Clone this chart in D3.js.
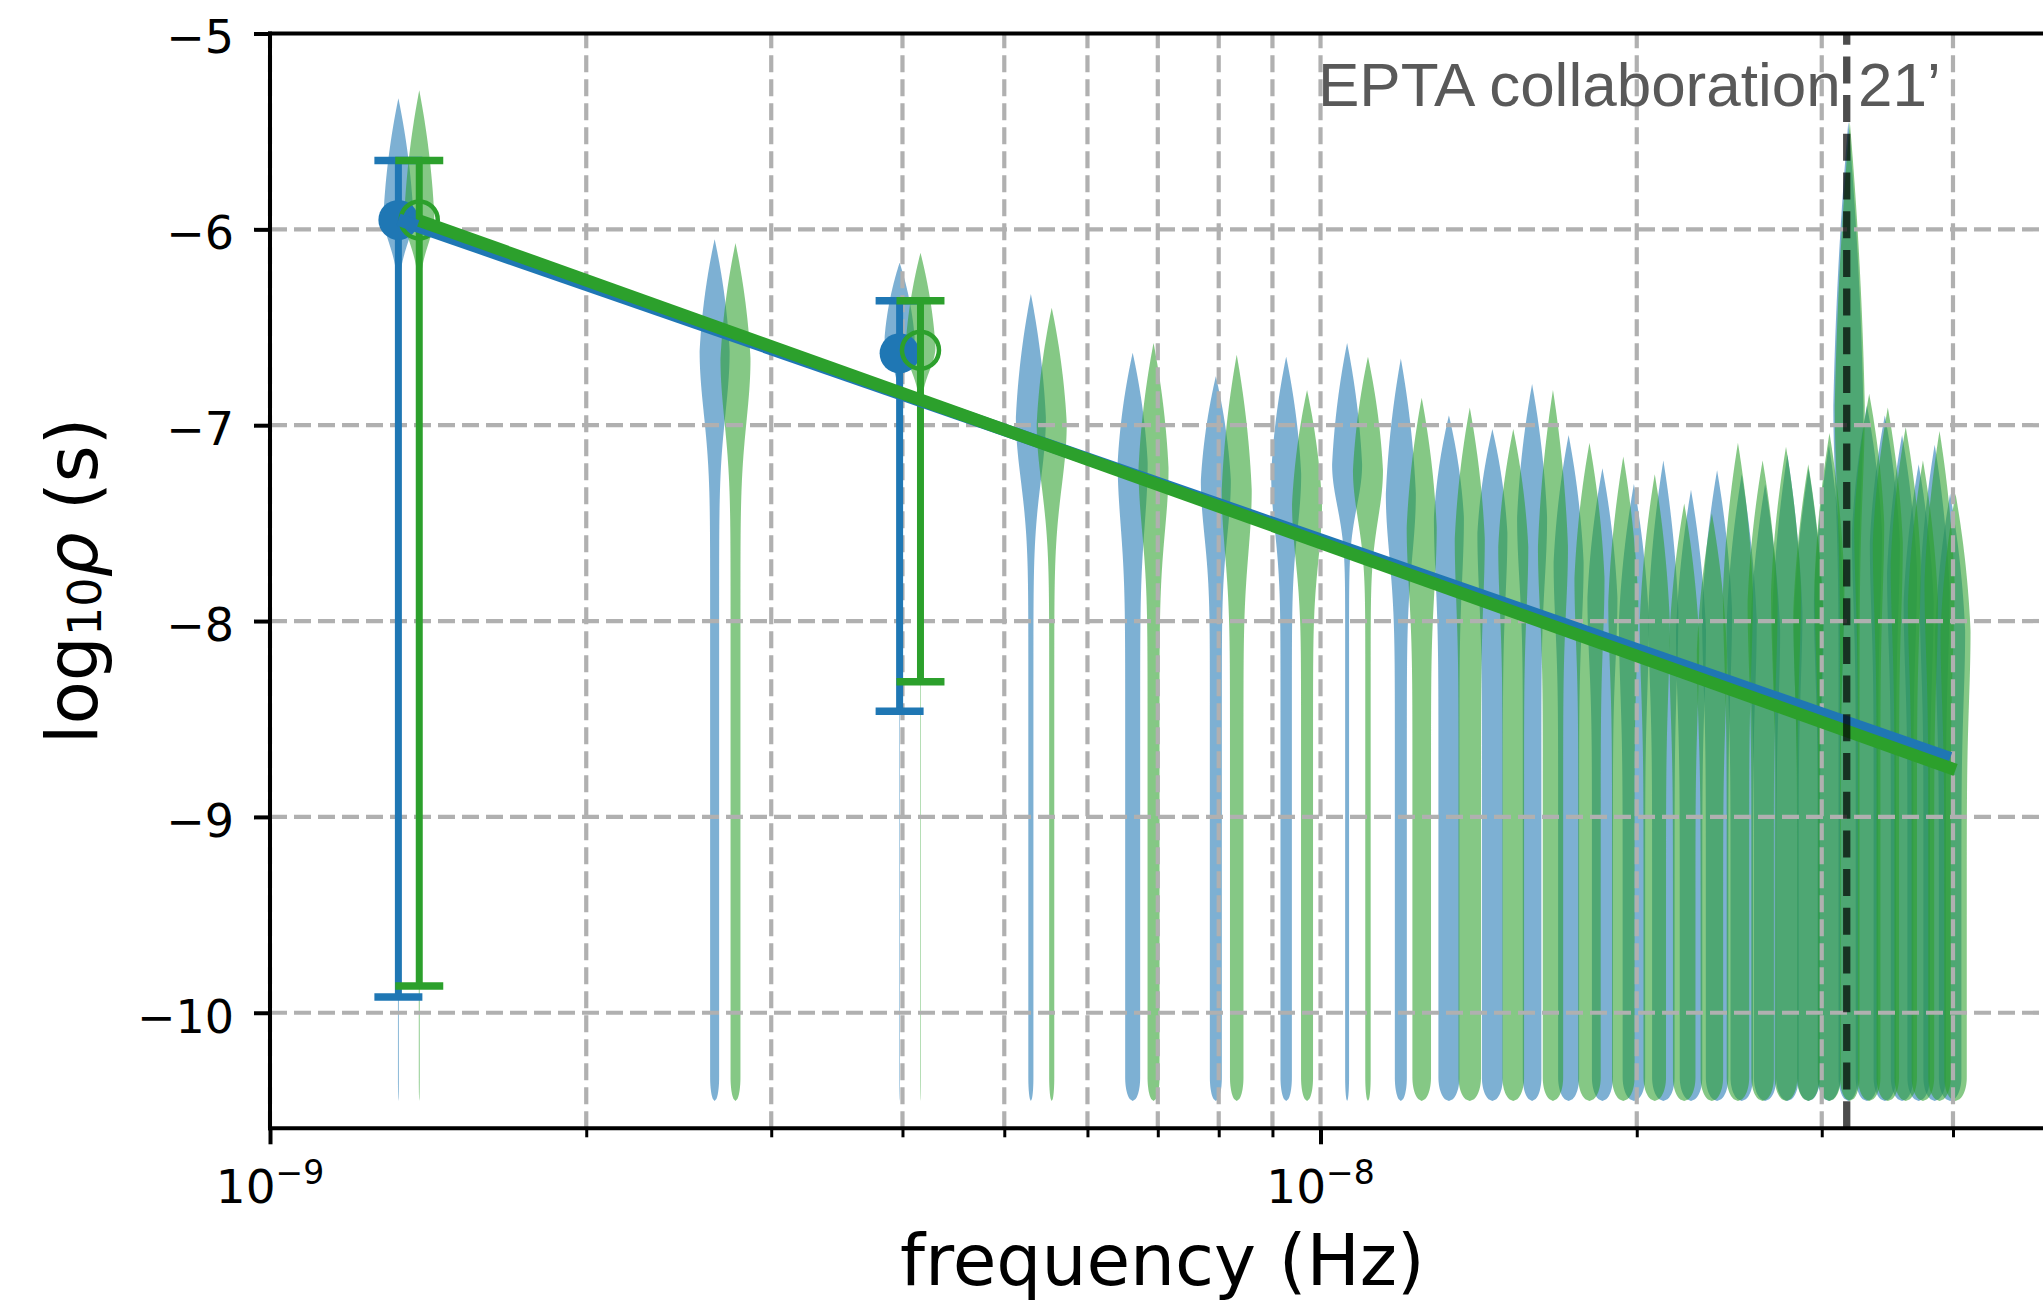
<!DOCTYPE html>
<html><head><meta charset="utf-8">
<script src="https://cdn.jsdelivr.net/npm/d3@7"></script>
<style>body{margin:0;background:#fff}svg{display:block}</style>
</head><body><svg id="c" width="2043" height="1303"></svg>
<script>
// ---------------- data ----------------
const blueFreq = [1.325e-9,2.650e-9,3.975e-9,5.300e-9,6.625e-9,7.950e-9,9.275e-9,1.0600e-8,1.1925e-8,1.3250e-8,
  1.4575e-8,1.5900e-8,1.7225e-8,1.8550e-8,1.9875e-8,2.1200e-8,2.2525e-8,2.3850e-8,2.5175e-8,2.6500e-8,
  2.7825e-8,2.9150e-8,3.0475e-8,3.1800e-8,3.3125e-8,3.4450e-8,3.5775e-8,3.7100e-8,3.8425e-8,3.9750e-8];
const blueTop  = [-5.33,-6.05,-6.17,-6.33,-6.63,-6.75,-6.65,-6.58,-6.66,-6.95,-7.02,-6.79,-7.05,-7.22,-7.30,
  -7.18,-7.33,-7.23,-7.25,-7.30,-7.15,-7.22,-7.10,-5.45,-6.90,-6.95,-7.05,-7.20,-7.10,-7.35];
const blueMode = [-5.93,-6.62,-6.55,-6.96,-7.19,-7.28,-7.25,-7.20,-7.35,-7.47,-7.55,-7.47,-7.70,-7.88,-8.00,
  -7.95,-8.05,-7.95,-8.00,-8.05,-7.95,-8.00,-7.90,-6.90,-7.55,-7.60,-7.75,-7.90,-7.85,-8.05];
const blueTail = [0.03,0.30,0.02,0.17,0.50,0.40,0.38,0.13,0.40,0.70,0.70,0.62,0.70,0.70,0.75,
  0.75,0.75,0.75,0.75,0.75,0.75,0.75,0.75,0.65,0.75,0.75,0.75,0.75,0.75,0.75];
const blueSpread = [0.20,0.45,0.17,0.45,0.45,0.40,0.40,0.30,0.45,0.45,0.45,0.45,0.45,0.45,0.50,
  0.50,0.50,0.50,0.50,0.50,0.50,0.50,0.50,0.60,0.50,0.50,0.50,0.50,0.50,0.50];

const greenFreq = [1.387e-9,2.774e-9,4.161e-9,5.548e-9,6.935e-9,8.322e-9,9.709e-9,1.1096e-8,1.2483e-8,1.3870e-8,
  1.5257e-8,1.6644e-8,1.8031e-8,1.9418e-8,2.0805e-8,2.2192e-8,2.3579e-8,2.4966e-8,2.6353e-8,2.7740e-8,
  2.9127e-8,3.0514e-8,3.1901e-8,3.3288e-8,3.4675e-8,3.6062e-8,3.7449e-8,3.8836e-8,4.0223e-8];
const greenTop  = [-5.29,-6.07,-6.12,-6.40,-6.58,-6.64,-6.82,-6.65,-6.86,-6.91,-7.02,-6.82,-7.09,-7.16,-7.25,
  -7.40,-7.45,-7.09,-7.18,-7.11,-7.20,-7.04,-5.45,-6.84,-6.91,-7.01,-7.18,-7.03,-7.35];
const greenMode = [-5.93,-6.66,-6.60,-6.99,-7.22,-7.33,-7.40,-7.23,-7.52,-7.58,-7.62,-7.62,-7.78,-7.90,-8.00,
  -8.10,-8.15,-7.85,-7.90,-7.85,-7.95,-7.80,-6.90,-7.50,-7.60,-7.70,-7.90,-7.80,-8.05];
const greenTail = [0.03,0.33,0.02,0.17,0.40,0.45,0.40,0.18,0.62,0.75,0.72,0.68,0.75,0.75,0.75,
  0.75,0.75,0.75,0.75,0.75,0.75,0.75,0.65,0.75,0.75,0.75,0.75,0.75,0.75];
const greenSpread = [0.20,0.45,0.17,0.45,0.45,0.45,0.40,0.35,0.45,0.45,0.45,0.45,0.45,0.45,0.50,
  0.50,0.50,0.50,0.50,0.50,0.50,0.50,0.60,0.50,0.50,0.50,0.50,0.50,0.50];
const violinBottom = -10.45;

// error bars (frequency, median, lower, upper)
const blueErrFreq = [1.325e-9, 3.975e-9];
const blueErrMid  = [-5.952, -6.633];
const blueErrLo   = [-9.92, -8.46];
const blueErrHi   = [-5.648, -6.365];
const greenErrFreq = [1.387e-9, 4.161e-9];
const greenErrMid  = [-5.952, -6.617];
const greenErrLo   = [-9.863, -8.31];
const greenErrHi   = [-5.648, -6.365];

// power-law fits (endpoints)
const blueLineFreq = [1.325e-9, 3.975e-8];
const blueLineVal  = [-5.95, -8.70];
const greenLineFreq = [1.387e-9, 4.0223e-8];
const greenLineVal  = [-5.955, -8.76];

const yearFreq = 3.1688e-8;
const yTicks = [-10, -9, -8, -7, -6, -5];
const xMajor = [1e-9, 1e-8];
const xMinor = [2e-9,3e-9,4e-9,5e-9,6e-9,7e-9,8e-9,9e-9,2e-8,3e-8,4e-8];
const xMajorLabels = ["−9", "−8"];
const annotation = "EPTA collaboration 21’";

// ---------------- layout ----------------
const L = 270, R = 2054.8, T = 33.5, B = 1128.3;
const x = d3.scaleLog().domain([1e-9, 5e-8]).range([L, R]);
const y = d3.scaleLinear().domain([-10.59, -5]).range([B, T]);
const BLUE = "#1f77b4", GREEN = "#2ca02c";
const svg = d3.select("#c");
const FONT = "DejaVu Sans";

// ---------------- violins ----------------
const PEAK = 15;
function halfWidth(v, top, mode, tail, sd) {
  let w;
  if (v >= mode) {
    const t = Math.min(1, (v - mode) / (top - mode));
    w = (1 - t) * (1 + 0.6 * t);
  } else {
    const z = (mode - v) / sd;
    w = tail + (1 - tail) * Math.exp(-z * z);
  }
  const cap = 0.12;
  if (v < violinBottom + cap) {
    const u = (violinBottom + cap - v) / cap;
    w *= Math.sqrt(Math.max(0, 1 - u * u));
  }
  return w * PEAK;
}
function violinPoints(top, mode, tail, sd) {
  const pts = [];
  const n = 400;
  for (let k = 0; k <= n; k++) {
    const v = violinBottom + (top - violinBottom) * k / n;
    pts.push({v, w: halfWidth(v, top, mode, tail, sd)});
  }
  return pts;
}
const gV = svg.append("g");
function drawViolins(freq, top, mode, tail, spread, color) {
  freq.forEach((f, i) => {
    const cx = x(f);
    const area = d3.area()
      .y(d => y(d.v))
      .x0(d => cx - d.w)
      .x1(d => cx + d.w)
      .curve(d3.curveLinear);
    gV.append("path")
      .attr("d", area(violinPoints(top[i], mode[i], tail[i], spread[i])))
      .attr("fill", color).attr("fill-opacity", 0.58).attr("stroke", "none");
  });
}
drawViolins(blueFreq, blueTop, blueMode, blueTail, blueSpread, BLUE);
drawViolins(greenFreq, greenTop, greenMode, greenTail, greenSpread, GREEN);

// ---------------- grid ----------------
const gG = svg.append("g").attr("stroke", "#b0b0b0").attr("stroke-width", 4.2).attr("stroke-dasharray", "17,7");
[...xMajor, ...xMinor].forEach(f => {
  gG.append("line").attr("x1", x(f)).attr("x2", x(f)).attr("y1", B).attr("y2", T);
});
yTicks.filter(v => v < -5).forEach(v => {
  gG.append("line").attr("x1", L).attr("x2", 2043).attr("y1", y(v)).attr("y2", y(v));
});

// ---------------- error bars ----------------
function drawErr(freq, mid, lo, hi, color, filled) {
  const g = svg.append("g");
  freq.forEach((f, i) => {
    const cx = x(f);
    g.append("line").attr("x1", cx).attr("x2", cx).attr("y1", y(lo[i])).attr("y2", y(hi[i]))
      .attr("stroke", color).attr("stroke-width", 7);
    [lo[i], hi[i]].forEach(v => g.append("line").attr("x1", cx - 24).attr("x2", cx + 24)
      .attr("y1", y(v)).attr("y2", y(v)).attr("stroke", color).attr("stroke-width", 7.5));
    if (filled) {
      g.append("circle").attr("cx", cx).attr("cy", y(mid[i])).attr("r", 20).attr("fill", color);
    } else {
      g.append("circle").attr("cx", cx).attr("cy", y(mid[i])).attr("r", 18.5)
        .attr("fill", "none").attr("stroke", color).attr("stroke-width", 4.5);
    }
  });
}
drawErr(blueErrFreq, blueErrMid, blueErrLo, blueErrHi, BLUE, true);
drawErr(greenErrFreq, greenErrMid, greenErrLo, greenErrHi, GREEN, false);

// ---------------- power law lines ----------------
const line = d3.line().x(d => x(d[0])).y(d => y(d[1]));
svg.append("path").attr("d", line(d3.zip(blueLineFreq, blueLineVal)))
  .attr("stroke", BLUE).attr("stroke-width", 12.5).attr("fill", "none");
svg.append("path").attr("d", line(d3.zip(greenLineFreq, greenLineVal)))
  .attr("stroke", GREEN).attr("stroke-width", 12.5).attr("fill", "none");

// ---------------- 1/yr line ----------------
svg.append("line").attr("x1", x(yearFreq)).attr("x2", x(yearFreq)).attr("y1", B).attr("y2", T)
  .attr("stroke", "#000").attr("stroke-opacity", 0.7).attr("stroke-width", 7.3)
  .attr("stroke-dasharray", "27,11.7");

// ---------------- axes ----------------
const yAxis = d3.axisLeft(y).tickValues(yTicks).tickSize(16).tickPadding(20)
  .tickFormat(d => "−" + Math.abs(d));
const gy = svg.append("g").attr("transform", `translate(${L},0)`).call(yAxis);
gy.select(".domain").remove();
gy.selectAll(".tick line").attr("stroke", "#000").attr("stroke-width", 4);
gy.selectAll(".tick text").attr("font-family", FONT).attr("font-size", 46).attr("fill", "#000")
  .attr("dy", "0.42em");

const xAxisMajor = d3.axisBottom(x).tickValues(xMajor).tickSize(16).tickFormat("");
const gx = svg.append("g").attr("transform", `translate(0,${B})`).call(xAxisMajor);
gx.select(".domain").remove();
gx.selectAll(".tick line").attr("stroke", "#000").attr("stroke-width", 4);
const xAxisMinor = d3.axisBottom(x).tickValues(xMinor).tickSize(9).tickFormat("");
const gx2 = svg.append("g").attr("transform", `translate(0,${B})`).call(xAxisMinor);
gx2.select(".domain").remove();
gx2.selectAll(".tick line").attr("stroke", "#000").attr("stroke-width", 3);
xMajor.forEach((f, i) => {
  const t = svg.append("text").attr("x", x(f)).attr("y", 1203).attr("text-anchor", "middle")
    .attr("font-family", FONT).attr("font-size", 47).attr("fill", "#000");
  t.append("tspan").text("10");
  t.append("tspan").attr("font-size", 33).attr("dy", -19).text(xMajorLabels[i]);
});

// spines
svg.append("line").attr("x1", L).attr("x2", L).attr("y1", T - 2).attr("y2", B + 2).attr("stroke", "#000").attr("stroke-width", 4);
svg.append("line").attr("x1", L - 2).attr("x2", 2043).attr("y1", B).attr("y2", B).attr("stroke", "#000").attr("stroke-width", 4);
svg.append("line").attr("x1", L - 2).attr("x2", 2043).attr("y1", T).attr("y2", T).attr("stroke", "#000").attr("stroke-width", 4);

// axis labels
svg.append("text").attr("x", (L + R) / 2).attr("y", 1285).attr("text-anchor", "middle")
  .attr("font-family", FONT).attr("font-size", 71).attr("fill", "#000").text("frequency (Hz)");
const yl = svg.append("text").attr("transform", `translate(97,${(T + B) / 2}) rotate(-90)`)
  .attr("text-anchor", "middle").attr("font-family", FONT).attr("font-size", 71).attr("fill", "#000");
yl.append("tspan").text("log");
yl.append("tspan").attr("font-size", 46).attr("dy", 4).text("10");
yl.append("tspan").attr("font-style", "italic").attr("dy", -4).text("ρ");
yl.append("tspan").text(" (s)");

// annotation
svg.append("text").attr("x", 1318).attr("y", 106).attr("font-family", "Liberation Sans")
  .attr("font-size", 62).attr("fill", "#595959").text(annotation);
</script>
</body></html>
